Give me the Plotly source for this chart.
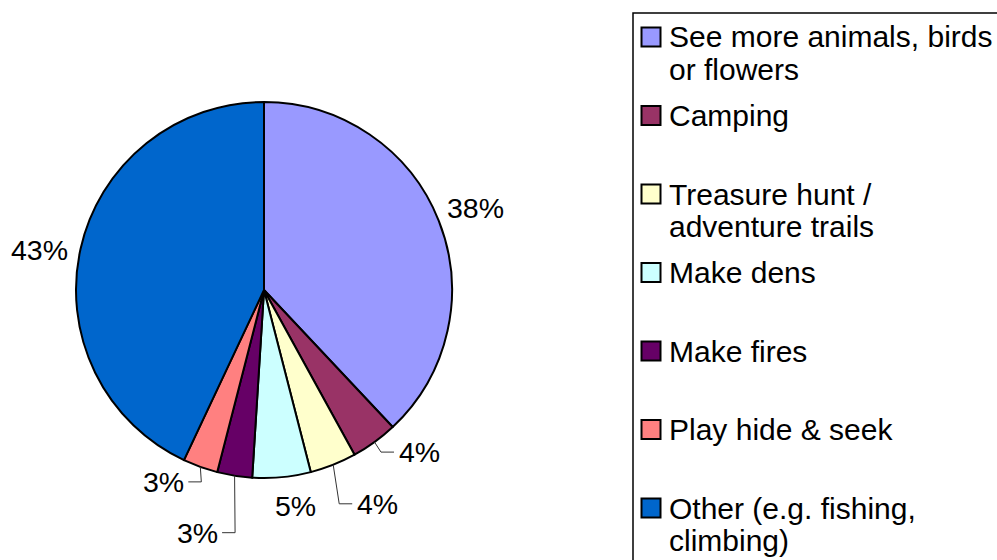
import math
import plotly.graph_objects as go

# ---- data ----
categories = [
    "See more animals, birds<br>or flowers",
    "Camping",
    "Treasure hunt /<br>adventure trails",
    "Make dens",
    "Make fires",
    "Play hide & seek",
    "Other (e.g. fishing,<br>climbing)",
]
percentages = [38, 4, 4, 5, 3, 3, 43]
colors = ["#9999FF", "#993366", "#FFFFCC", "#CCFFFF", "#660066", "#FF8080", "#0066CC"]

# ---- layout / style (pixels) ----
W, H = 997, 560
CX, CY, R = 264, 290, 188
label_offsets = [(37, -13), (44.5, 10), (44, 39), (14, 29), (-37.5, 57), (-37, 15), (-41.5, 1)]
leader = [False, True, True, False, True, True, False]
FONT = "Liberation Sans, Arial, sans-serif"


def px(x):
    return x / W


def py(y):
    return 1 - y / H


fig = go.Figure()
fig.add_trace(go.Pie(
    labels=[c.replace("<br>", " ") for c in categories],
    values=percentages,
    marker=dict(colors=colors, line=dict(color="#000000", width=2)),
    sort=False,
    direction="clockwise",
    rotation=0,
    textinfo="none",
    hoverinfo="label+percent",
    showlegend=False,
    domain=dict(x=[px(CX - R), px(CX + R)], y=[py(CY + R), py(CY - R)]),
))

annotations = []
shapes = []
total = sum(percentages)
cum = 0
for i, v in enumerate(percentages):
    mid = (cum + v / 2) / total * 2 * math.pi
    cum += v
    ex = CX + R * math.sin(mid)
    ey = CY - R * math.cos(mid)
    dx, dy = label_offsets[i]
    lx, ly = ex + dx, ey + dy
    annotations.append(dict(
        x=px(lx), y=py(ly), xref="paper", yref="paper",
        text=f"{v}%", showarrow=False, xanchor="center", yanchor="middle",
        font=dict(family=FONT, size=28.5, color="#000000"),
    ))
    if leader[i]:
        s = 1 if dx > 0 else -1
        cx_, ex_ = lx - s * 38, lx - s * 25
        path = (f"M {px(ex)},{py(ey)} L {px(cx_)},{py(ly)} L {px(ex_)},{py(ly)}")
        shapes.append(dict(type="path", xref="paper", yref="paper", path=path,
                           line=dict(color="#333333", width=1)))

# ---- legend drawn as box + swatches + text ----
shapes.append(dict(type="rect", xref="paper", yref="paper",
                   x0=px(633), x1=px(1020), y0=py(13), y1=py(600),
                   line=dict(color="#000000", width=1.5), fillcolor="rgba(0,0,0,0)"))
LEG_Y0, LEG_STEP, LINE_STEP = 37, 78.5, 32.5
for i, (cat, col) in enumerate(zip(categories, colors)):
    yc = LEG_Y0 + i * LEG_STEP
    shapes.append(dict(type="rect", xref="paper", yref="paper",
                       x0=px(641.5), x1=px(660.5), y0=py(yc - 9.5), y1=py(yc + 9.5),
                       fillcolor=col, line=dict(color="#000000", width=2)))
    for j, line in enumerate(cat.split("<br>")):
        annotations.append(dict(
            x=px(667), y=py(yc + j * LINE_STEP), xref="paper", yref="paper",
            text=line, showarrow=False, xanchor="left", yanchor="middle",
            font=dict(family=FONT, size=30, color="#000000"),
        ))

fig.update_layout(
    width=W, height=H,
    margin=dict(l=0, r=0, t=0, b=0),
    paper_bgcolor="#FFFFFF",
    plot_bgcolor="#FFFFFF",
    showlegend=False,
    annotations=annotations,
    shapes=shapes,
)

fig.write_html(
    "out.html",
    config={"displayModeBar": False},
    post_script="document.body.style.margin='0';document.body.style.overflow='hidden';",
)
